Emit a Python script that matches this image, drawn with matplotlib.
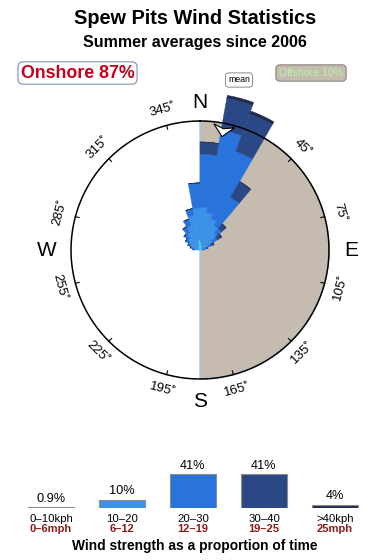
import numpy as np
import matplotlib
matplotlib.use('Agg')
import matplotlib.pyplot as plt
from matplotlib.patches import Polygon

plt.rcParams['font.family'] = ['Liberation Sans', 'DejaVu Sans']

# ---------------- data ----------------
sector_dirs = np.arange(5, 360, 10)          # sector centres (deg)
# frequency (%) per 10-degree sector, per speed class (stacked)
speed_0_10 = [0.62, 0.39, 0.31, 0.23, 0.16, 0.16, 0.16, 0.08, 0.08,
              0, 0, 0, 0, 0, 0, 0, 0, 0, 0, 0, 0, 0, 0, 0, 0, 0, 0,
              0.08, 0.08, 0.16, 0.16, 0.16, 0.23, 0.23, 0.39, 0.78]
speed_10_20 = [2.71, 2.56, 2.25, 1.94, 1.55, 1.01, 0.54, 0.31, 0.16,
               0, 0, 0, 0, 0, 0, 0, 0, 0, 0, 0, 0, 0, 0, 0, 0, 0, 0,
               0.31, 0.47, 0.62, 0.85, 1.01, 1.32, 1.78, 2.33, 2.48]
speed_20_30 = [4.11, 6.51, 5.58, 2.56, 0.47, 0.39, 0.23, 0.16, 0.08,
               0, 0, 0, 0, 0, 0, 0, 0, 0, 0, 0, 0, 0, 0, 0, 0, 0, 0,
               0.16, 0.23, 0.23, 0.31, 0.47, 0.54, 0.54, 0.54, 1.94]
speed_30_40 = [0.93, 2.48, 3.10, 1.40, 0.47, 0.39, 0.23, 0.08, 0,
               0, 0, 0, 0, 0, 0, 0, 0, 0, 0, 0, 0, 0, 0, 0, 0, 0, 0,
               0, 0, 0, 0, 0, 0, 0, 0, 0]
speed_40p = [0, 0.23, 0.23, 0, 0, 0, 0, 0, 0,
             0, 0, 0, 0, 0, 0, 0, 0, 0, 0, 0, 0, 0, 0, 0, 0, 0, 0,
             0, 0, 0, 0, 0, 0, 0, 0, 0]
speed_classes = [speed_0_10, speed_10_20, speed_20_30, speed_30_40, speed_40p]
class_colors = ['#4fd3f2', '#3a92e8', '#2873dc', '#2b4886', '#1f2b4c']

circle_pct = 10.0          # radius of the compass circle
offshore_sector = (0, 180)  # degrees
mean_dir = 11              # mean wind direction (deg)

onshore_text = 'Onshore 87%'
offshore_text = 'Offshore 10%'

legend_pct = [0.9, 10, 41, 41, 4]
legend_kph = ['0\u201310kph', '10\u201320', '20\u201330', '30\u201340', '>40kph']
legend_mph = ['0\u20136mph', '6\u201312', '12\u201319', '19\u201325', '25mph']
legend_colors = ['#4f9aa8', '#3a92e8', '#2873dc', '#2b4886', '#1f2b4c']

deg_labels = [45, 75, 105, 135, 165, 195, 225, 255, 285, 315, 345]
tick_dirs = np.arange(15, 360, 30)
compass = {'N': 0, 'E': 90, 'S': 180, 'W': 270}

# ---------------- figure ----------------
W, H = 390, 560
fig = plt.figure(figsize=(W / 100, H / 100), dpi=100)

fig.text(0.5, 1 - 18.5 / H, 'Spew Pits Wind Statistics', ha='center', va='center',
         fontsize=14.3, fontweight='bold')
fig.text(0.5, 1 - 42 / H, 'Summer averages since 2006', ha='center', va='center',
         fontsize=11.5, fontweight='bold')

fig.text(77.5 / W, 1 - 73 / H, onshore_text, ha='center', va='center', fontsize=12.8,
         fontweight='bold', color='#c4001c',
         bbox=dict(boxstyle='round,pad=0.15,rounding_size=0.3', fc='white', ec='#8090b0', lw=0.8))
fig.text(311 / W, 1 - 73 / H, offshore_text, ha='center', va='center', fontsize=7.6,
         color='#b4f7a6',
         bbox=dict(boxstyle='round,pad=0.3,rounding_size=0.4', fc='#c5bbae', ec='#8a8580', lw=0.8))
fig.text(239 / W, 1 - 80 / H, 'mean', ha='center', va='center', fontsize=6.3,
         bbox=dict(boxstyle='round,pad=0.3,rounding_size=0.4', fc='white', ec='#888888', lw=0.7))

# polar rose
px_per_unit = 12.9
rmax = 13.0
rad_px = rmax * px_per_unit
cx, cy = 200, 250
ax = fig.add_axes([(cx - rad_px) / W, (H - cy - rad_px) / H, 2 * rad_px / W, 2 * rad_px / H],
                  projection='polar')
ax.set_theta_zero_location('N')
ax.set_theta_direction(-1)
ax.set_ylim(0, rmax)
ax.axis('off')

# offshore wedge
o0, o1 = offshore_sector
ax.bar(np.deg2rad((o0 + o1) / 2), circle_pct, width=np.deg2rad(o1 - o0), bottom=0,
       color='#c5bbae', edgecolor='#a9c6e2', linewidth=1.0, zorder=1)

theta = np.deg2rad(sector_dirs)
width = np.deg2rad(10)
bottom = np.zeros(len(sector_dirs))
for vals, col in zip(speed_classes, class_colors):
    vals = np.array(vals, dtype=float)
    ax.bar(theta, vals, width=width, bottom=bottom, color=col, edgecolor=col,
           linewidth=0.3, zorder=2)
    bottom = bottom + vals

# circle + ticks
tt = np.linspace(0, 2 * np.pi, 400)
ax.plot(tt, np.full_like(tt, circle_pct), color='black', lw=1.1, zorder=4)
for d in tick_dirs:
    ax.plot([np.deg2rad(d)] * 2, [circle_pct - 0.3, circle_pct], color='black', lw=0.8, zorder=4)

# mean arrow (local coords: u radial px, v tangential px)
arrow_uv = [(115.5, 0), (126.5, -10.5), (123.5, 0), (126.5, 10.5)]
verts = []
for u, v in arrow_uv:
    r = np.hypot(u, v) / px_per_unit
    th = np.deg2rad(mean_dir) + np.arctan2(v, u)
    verts.append((th, r))
ax.add_patch(Polygon(verts, closed=True, fc='white', ec='black', lw=0.8, zorder=5))

# degree labels
for d in deg_labels:
    rot = (-d) % 180
    if rot > 90:
        rot -= 180
    ax.text(np.deg2rad(d), 11.24, f'{d}\u02da', ha='center', va='center', fontsize=9.5,
            rotation=rot, rotation_mode='anchor', clip_on=False)

comp_r = {'N': 11.45, 'E': 11.76, 'S': 11.76, 'W': 11.88}
for lab, d in compass.items():
    ax.text(np.deg2rad(d), comp_r[lab], lab, ha='center', va='center', fontsize=15,
            clip_on=False)

# legend bars
spacing = 71
x0 = 51
lax = fig.add_axes([0, 52 / H, 1, 60 / H])
lax.set_xlim(-x0 / spacing, (W - x0) / spacing)
lax.set_ylim(0, 60 / 33.7 * 41)
lax.axis('off')
xs = np.arange(len(legend_pct))
lax.bar(xs, legend_pct, width=0.634, color=legend_colors, edgecolor='#8c8c8c', linewidth=0.8)
for x, p, k, m in zip(xs, legend_pct, legend_kph, legend_mph):
    lax.annotate(f'{p:g}%', (x, p), xytext=(0, 4.0), textcoords='offset points',
                 ha='center', va='baseline', fontsize=9.2, annotation_clip=False)
    lax.annotate(k, (x, 0), xytext=(0, -10.3), textcoords='offset points',
                 ha='center', va='baseline', fontsize=8.2, annotation_clip=False)
    lax.annotate(m, (x, 0), xytext=(0, -17.6), textcoords='offset points',
                 ha='center', va='baseline', fontsize=8.0, fontweight='bold',
                 color='#8b1a1a', annotation_clip=False)

fig.text(0.5, 1 - 546 / H, 'Wind strength as a proportion of time', ha='center', va='center',
         fontsize=9.9, fontweight='bold')

fig.savefig('out.png', dpi=100)
